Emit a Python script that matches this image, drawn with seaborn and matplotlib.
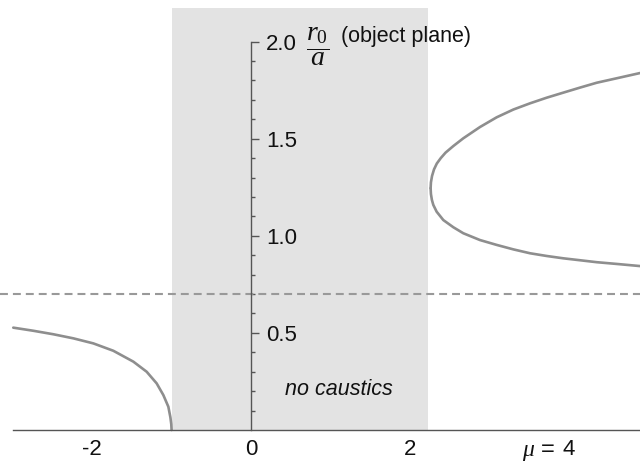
import numpy as np
import pandas as pd
import matplotlib
matplotlib.use("Agg")
import matplotlib.pyplot as plt
import seaborn as sns
from matplotlib.ticker import MultipleLocator, FixedLocator

# ---------------- data ----------------
left_mu = [-2.994, -2.742, -2.490, -2.238, -1.986, -1.734, -1.482, -1.314,
           -1.188, -1.104, -1.041, -1.015, -1.004, -1.0]
left_r = [0.527, 0.511, 0.493, 0.472, 0.446, 0.408, 0.352, 0.300,
          0.240, 0.180, 0.120, 0.065, 0.030, 0.0]

upper_mu = [2.262, 2.266, 2.280, 2.305, 2.340, 2.390, 2.450, 2.548, 2.674,
            2.884, 3.094, 3.304, 3.514, 3.724, 3.933, 4.144, 4.354, 4.606, 4.900]
upper_r = [1.245, 1.275, 1.308, 1.342, 1.372, 1.400, 1.428, 1.462, 1.502,
           1.560, 1.610, 1.650, 1.682, 1.711, 1.737, 1.763, 1.788, 1.811, 1.838]

lower_mu = [2.262, 2.266, 2.278, 2.296, 2.338, 2.422, 2.548, 2.674, 2.884,
            3.094, 3.304, 3.514, 3.724, 3.933, 4.144, 4.354, 4.606, 4.900]
lower_r = [1.245, 1.215, 1.185, 1.159, 1.124, 1.081, 1.044, 1.013, 0.978,
           0.953, 0.930, 0.910, 0.896, 0.884, 0.874, 0.864, 0.855, 0.844]

no_caustics_range = (-1.0, 2.23)
no_caustics_top = 2.173
threshold_r = 0.70

x_major = [-2, 0, 2, 4]
x_major_labels = ["-2", "0", "2", "4"]
y_major = [0.5, 1.0, 1.5, 2.0]
y_major_labels = ["0.5", "1.0", "1.5", "2.0"]

# ---------------- style ----------------
sns.set_style("white")
plt.rcParams["font.family"] = ["Liberation Sans", "DejaVu Sans"]
plt.rcParams["mathtext.fontset"] = "custom"
plt.rcParams["mathtext.rm"] = "Liberation Serif"
plt.rcParams["mathtext.it"] = "Liberation Serif:italic"

curve_color = "#8e8e8e"
axis_color = "#555555"
shade_color = "#e3e3e3"
text_color = "#111111"

fig = plt.figure(figsize=(6.4, 4.67), dpi=100)
ax = fig.add_axes([0, 0, 1, 1])
ax.set_facecolor("white")

# shaded "no caustics" region
ax.fill_between(list(no_caustics_range), 0, no_caustics_top,
                color=shade_color, linewidth=0, zorder=0)

# dashed threshold line
ax.axhline(threshold_r, color="#999999", linewidth=1.5,
           dashes=(3.8, 2.4), zorder=1)

# curves
for xs, ys in [(left_mu, left_r), (upper_mu, upper_r), (lower_mu, lower_r)]:
    df = pd.DataFrame({"mu": xs, "r": ys})
    sns.lineplot(data=df, x="mu", y="r", sort=False, estimator=None,
                 color=curve_color, linewidth=1.9, ax=ax, zorder=2)

ax.set_xlim(-3.161, 4.899)
ax.set_ylim(-0.1905, 2.214)
ax.set_xlabel("")
ax.set_ylabel("")

# spines
ax.spines["top"].set_visible(False)
ax.spines["left"].set_visible(False)
ax.spines["bottom"].set_position(("data", 0))
ax.spines["right"].set_position(("data", 0))
ax.spines["right"].set_visible(True)
ax.spines["bottom"].set_bounds(-3.0, 4.9)
ax.spines["right"].set_bounds(0, 2.0)
for s in ("bottom", "right"):
    ax.spines[s].set_color(axis_color)
    ax.spines[s].set_linewidth(1.0)
    ax.spines[s].set_zorder(3)

# x ticks
ax.xaxis.set_major_locator(FixedLocator(x_major))
ax.set_xticklabels(x_major_labels)
ax.xaxis.set_minor_locator(MultipleLocator(0.5))
ax.tick_params(axis="x", which="major", direction="in", length=5.8, width=1.0,
               color=axis_color, pad=6.5, labelsize=16, labelcolor=text_color)
ax.tick_params(axis="x", which="minor", direction="in", length=2.9, width=1.0,
               color=axis_color)

# y ticks (on the right of the spine at mu = 0)
ax.yaxis.tick_right()
ax.yaxis.set_major_locator(FixedLocator(y_major))
ax.set_yticklabels(y_major_labels)
ax.yaxis.set_minor_locator(FixedLocator(list(np.round(np.arange(0.1, 2.0, 0.1), 2))))
ax.tick_params(axis="y", which="major", direction="out", length=5.8, width=1.0,
               color=axis_color, pad=5.0, labelsize=16, labelcolor=text_color)
ax.tick_params(axis="y", which="minor", direction="out", length=2.9, width=1.0,
               color=axis_color)
ax.grid(False)

# annotations
ax.text(0.838, 1.975, r"$\dfrac{r_{\mathit{0}}}{a}$", fontsize=20,
        ha="center", va="center", color=text_color)
ax.text(1.13, 2.024, "(object plane)", fontsize=15.5,
        ha="left", va="center", color=text_color)
ax.text(3.83, -0.113, r"$\mu$ =", fontsize=17, ha="right", va="center",
        color=text_color)
ax.text(1.11, 0.21, "no caustics", fontsize=15.5, style="italic",
        ha="center", va="center", color=text_color)

fig.savefig("out.png", dpi=100)
